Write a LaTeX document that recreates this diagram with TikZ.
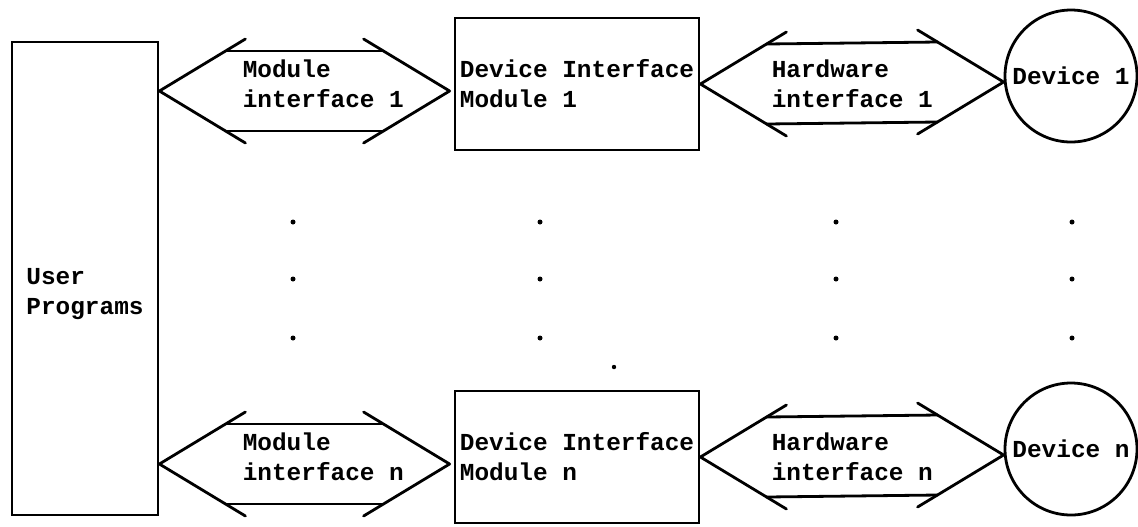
\documentclass[tikz,border=0pt]{standalone}
\usepackage{fontspec}
\setmonofont{Liberation Mono}
\usetikzlibrary{calc}

\tikzset{
  unit/.style={draw, line width=1.4pt, rectangle, inner sep=0pt},
  txt/.style={font=\ttfamily\bfseries\fontsize{12.2}{15}\selectfont, align=left, inner sep=0pt},
  arr/.style={line width=1.4pt, line cap=round, line join=round},
}

\begin{document}
\begin{tikzpicture}[x=0.5pt, y=-0.5pt]
  \useasboundingbox (0,0) rectangle (1138,526);

  % user programs
  \node[unit, txt, minimum width=73pt, minimum height=236.5pt, text height=39pt] (user) at (85,278.5) {User\\Programs};

% --- ROWS 1 AND n ---
  \foreach \y/\k in {84/1, 457/n} {
    % boxes
    \node[unit, txt, minimum width=122pt, minimum height=66pt] (dim\k) at (577,\y) {Device Interface\\Module \k};
    \node[unit, txt, circle, minimum size=66pt] (dev\k) at ({1071},{\y-8}) {Device \k};

    % arrow tips
    \coordinate (ml) at ($(user.east |- dim\k.west)+(0,7)$);
    \coordinate (mr) at ($(dim\k.west)+(-4,7)$);
    \coordinate (hl) at (dim\k.east);
    \coordinate (hr) at ($(dev\k.west)+(0,6)$);

    % module interface
    \draw[arr] ($(ml)+(86,-52)$) -- (ml) -- ($(ml)+(86,52)$);
    \draw[arr] ($(mr)+(-86,-52)$) -- (mr) -- ($(mr)+(-86,52)$);
    \draw[arr] ($(ml)+(66,-40)$) -- ($(mr)+(-66,-40)$);
    \draw[arr] ($(ml)+(66,40)$) -- ($(mr)+(-66,40)$);

    % hardware interface
    \draw[arr] ($(hl)+(86,-52)$) -- (hl) -- ($(hl)+(86,52)$);
    \draw[arr] ($(hr)+(-86,-52)$) -- (hr) -- ($(hr)+(-86,52)$);
    \draw[arr] ($(hl)+(66,-40)$) -- ($(hr)+(-66,-40)$);
    \draw[arr] ($(hl)+(66,40)$) -- ($(hr)+(-66,40)$);

    % labels
    \node[txt, anchor=west] (mt\k) at ($(ml)+(83,-7)$) {Module\\interface \k};
    \node[txt, anchor=west] (ht\k) at ($(hl)+(71,0)$) {Hardware\\interface \k};
  }

  % dots
  \foreach \x in {293,540,836,1072} {
    \foreach \y in {222,279,338} {
      \fill (\x,\y) circle (1.25pt);
    }
  }
  \fill (614,367) circle (1.1pt);
\end{tikzpicture}
\end{document}
